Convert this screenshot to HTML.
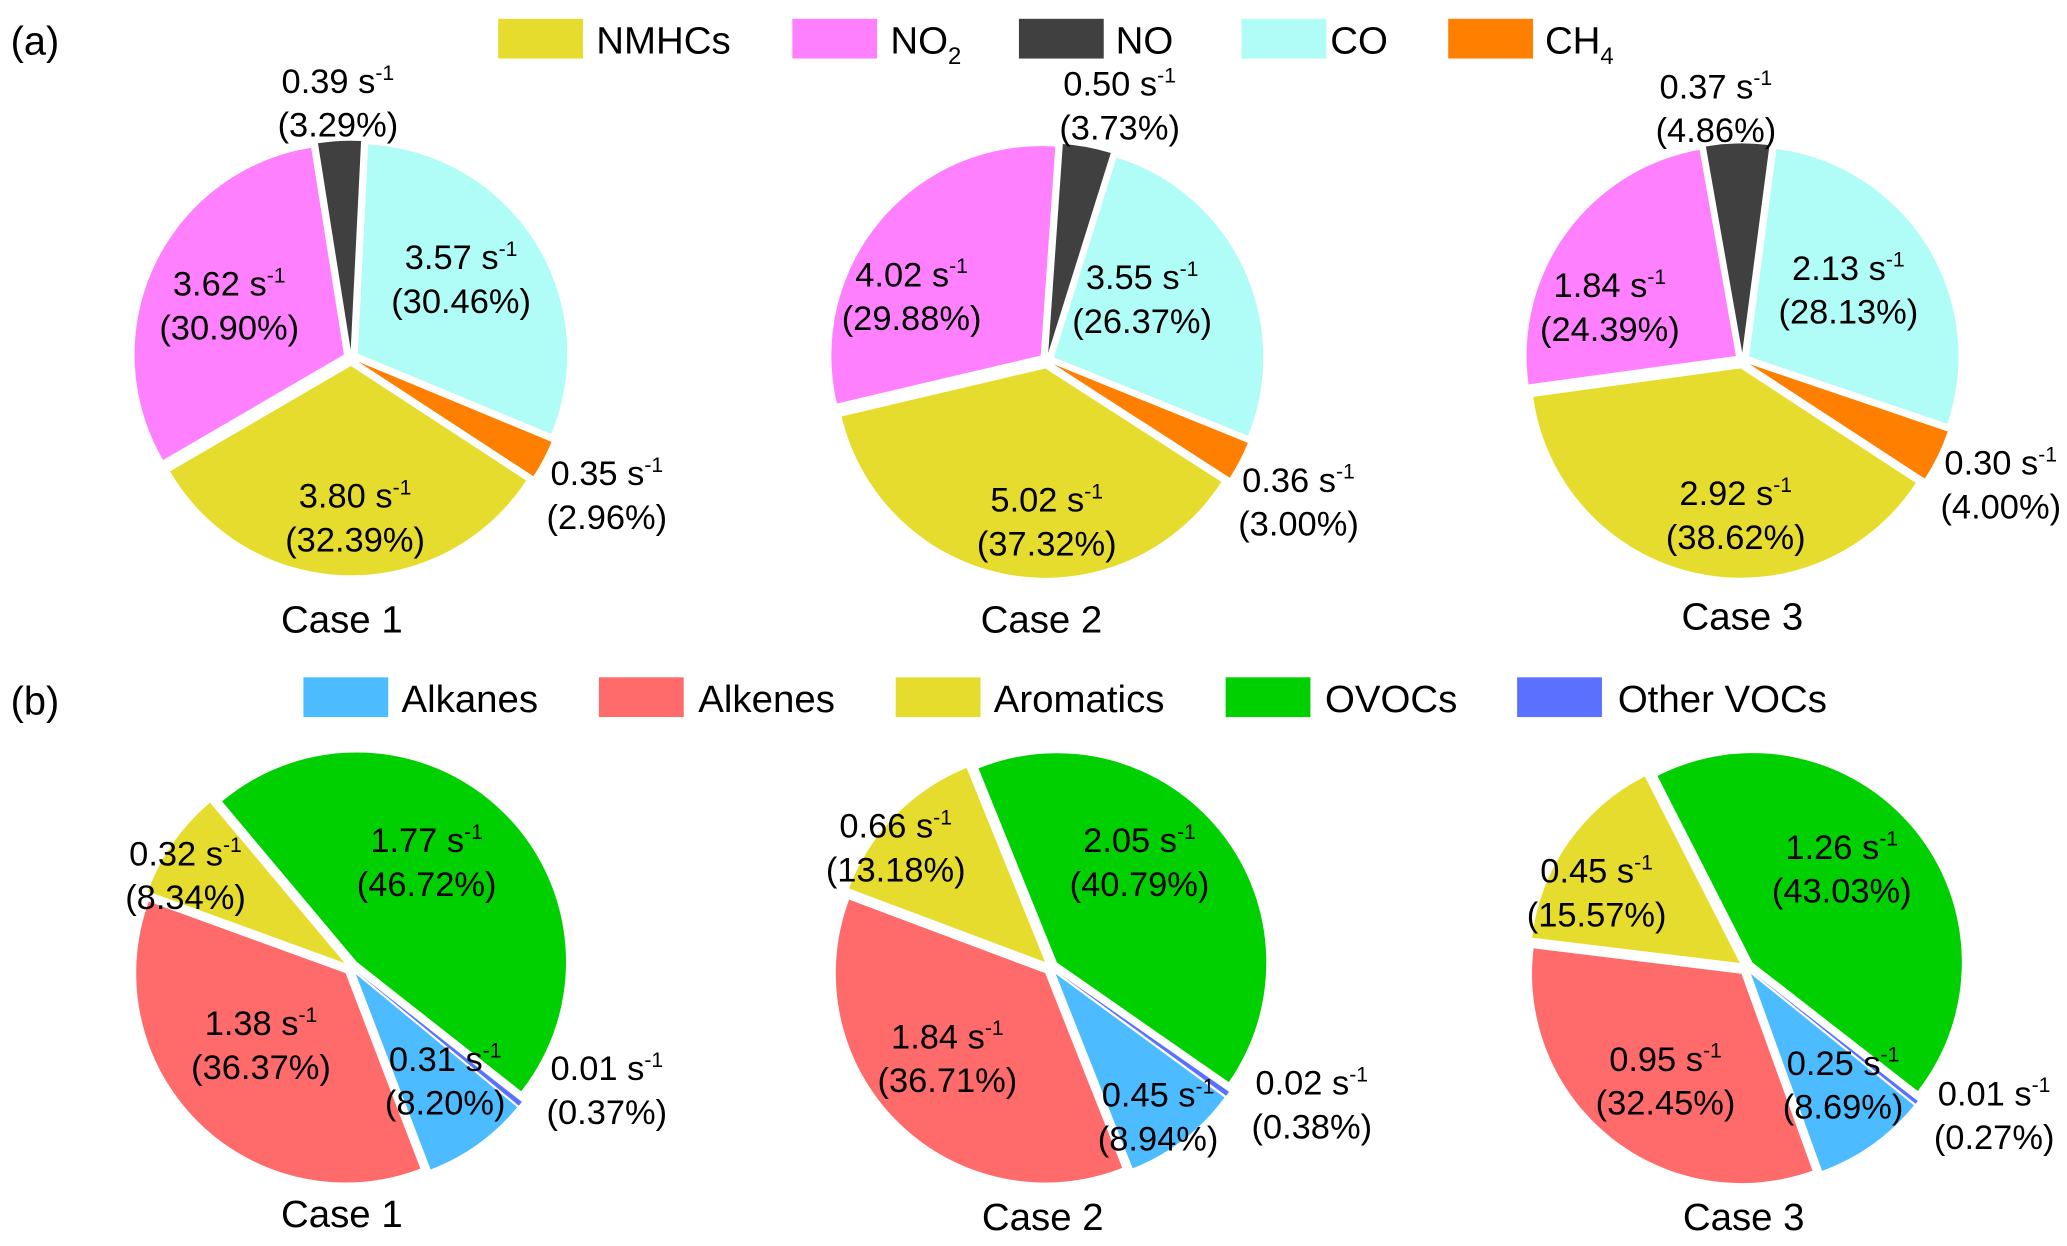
<!DOCTYPE html>
<html><head><meta charset="utf-8"><style>
html,body{margin:0;padding:0;background:#fff;}
svg{display:block;font-family:"Liberation Sans",Arial,sans-serif;}
</style></head><body>
<svg id="chart" width="2067" height="1246" viewBox="0 0 1560 940" xmlns="http://www.w3.org/2000/svg">
<text x="8" y="41" font-size="30">(a)</text>
<text x="8" y="539" font-size="30">(b)</text>
<g id="legA"></g>
<g id="legB"></g>
<g id="pies"></g>
</svg>
<script>
// Panel (a) data, clockwise order: NO, CO, CH4, NMHCs, NO2
const aNames = ["NO","CO","CH4","NMHCs","NO2"];
const aRates1 = [0.39,3.57,0.35,3.80,3.62];
const aPct1 = [3.29,30.46,2.96,32.39,30.90];
const aRates2 = [0.50,3.55,0.36,5.02,4.02];
const aPct2 = [3.73,26.37,3.00,37.32,29.88];
const aRates3 = [0.37,2.13,0.30,2.92,1.84];
const aPct3 = [4.86,28.13,4.00,38.62,24.39];
// Panel (b) data, clockwise order: OVOCs, Other, Alkanes, Alkenes, Aromatics
const bNames = ["OVOCs","Other VOCs","Alkanes","Alkenes","Aromatics"];
const bRates1 = [1.77,0.01,0.31,1.38,0.32];
const bPct1 = [46.72,0.37,8.20,36.37,8.34];
const bRates2 = [2.05,0.02,0.45,1.84,0.66];
const bPct2 = [40.79,0.38,8.94,36.71,13.18];
const bRates3 = [1.26,0.01,0.25,0.95,0.45];
const bPct3 = [43.03,0.27,8.69,32.45,15.57];
const caseLabels = ["Case 1","Case 2","Case 3"];

const NS="http://www.w3.org/2000/svg";
const svg=document.getElementById('chart');
function mk(tag,attrs,parent){const e=document.createElementNS(NS,tag);for(const k in attrs)e.setAttribute(k,attrs[k]);parent.appendChild(e);return e;}

const aColors={"NO":"#404040","CO":"#b0fcf6","CH4":"#ff8000","NMHCs":"#e6dc2e","NO2":"#ff80ff"};
const bColors={"OVOCs":"#00d000","Other VOCs":"#5a70ff","Alkanes":"#4dbbff","Alkenes":"#ff6a6a","Aromatics":"#e6dc2e"};

const legA=document.getElementById('legA');
[["NMHCs",376,450],["NO2",598,672],["NO",769,842],["CO",937,1004],["CH4",1093,1166]].forEach(([n,bx,tx])=>{
  const r=mk('rect',{x:bx,y:14,width:64,height:30,fill:aColors[n]},legA);
  
  
  const t=mk('text',{x:tx,y:40,'font-size':29},legA);
  
  
  if(n==="NO2"||n==="CH4"){t.textContent=n.slice(0,-1);const s=mk('tspan',{'font-size':18,dy:8},t);s.textContent=n.slice(-1);}
  else t.textContent=n;
});
const legB=document.getElementById('legB');
[["Alkanes",229,303],["Alkenes",452,527],["Aromatics",676,750],["OVOCs",925,1000],["Other VOCs",1145,1221]].forEach(([n,bx,tx])=>{
  const r=mk('rect',{x:bx,y:511,width:64,height:30,fill:bColors[n]},legB);
  
  
  const t=mk('text',{x:tx,y:537,'font-size':29},legB);
  
  
  t.textContent=n;
});

const pies=document.getElementById('pies');
const R=158, EXP=6;
function pt(cx,cy,r,deg){const a=deg*Math.PI/180;return [cx+r*Math.sin(a),cy-r*Math.cos(a)];}
function label(g,x,y,rate,pct,name){
  const t=mk('text',{x:x,y:y,'font-size':26,'text-anchor':'middle'},g);
  
  
  t.appendChild(document.createTextNode(rate.toFixed(2)+' s'));
  const s=mk('tspan',{'font-size':16,dy:-10},t);s.textContent='-1';
  const t2=mk('text',{x:x,y:y+33,'font-size':26,'text-anchor':'middle'},g);
  
  
  t2.textContent='('+pct.toFixed(2)+'%)';
}
function drawPie(id,cx,cy,start,names,rates,pcts,colors,labelPos,caseX,caseY,caseText){
  const g=mk('g',{},pies);
  
  
  const total=pcts.reduce((a,b)=>a+b,0);
  let ang=start;
  names.forEach((n,i)=>{
    const sweep=pcts[i]/total*360;
    const mid=ang+sweep/2;
    const [ox,oy]=pt(cx,cy,EXP,mid);
    const [x1,y1]=pt(ox,oy,R,ang),[x2,y2]=pt(ox,oy,R,ang+sweep);
    const p=mk('path',{d:`M${ox},${oy}L${x1},${y1}A${R},${R} 0 ${sweep>180?1:0} 1 ${x2},${y2}Z`,fill:colors[n]},g);
    
    
    ang+=sweep;
  });
  names.forEach((n,i)=>label(g,labelPos[i][0],labelPos[i][1],rates[i],pcts[i],n.toLowerCase().replace(' ','-')));
  const c=mk('text',{x:caseX,y:caseY,'font-size':29,'text-anchor':'middle'},g);
  
  
  c.textContent=caseText;
}
drawPie('pie-a-case1',265,270,-9,aNames,aRates1,aPct1,aColors,
  [[255,70],[348,203],[458,366],[268,383],[173,223]],258,477,caseLabels[0]);
drawPie('pie-a-case2',790,272,4,aNames,aRates2,aPct2,aColors,
  [[845,72],[862,218],[980,371],[790,386],[688,216]],786,477,caseLabels[1]);
drawPie('pie-a-case3',1315,272,-10,aNames,aRates3,aPct3,aColors,
  [[1295,74],[1395,211],[1510,358],[1310,381],[1215,224]],1315,475,caseLabels[2]);
drawPie('pie-b-case1',265,730,-40,bNames,bRates1,bPct1,bColors,
  [[322,643],[458,815],[336,808],[197,781],[140,653]],258,926,caseLabels[0]);
drawPie('pie-b-case2',793,730,-22,bNames,bRates2,bPct2,bColors,
  [[860,643],[990,826],[874,835],[715,791],[676,632]],787,928,caseLabels[1]);
drawPie('pie-b-case3',1318,730,-27,bNames,bRates3,bPct3,bColors,
  [[1390,648],[1505,834],[1391,811],[1257,808],[1205,666]],1316,928,caseLabels[2]);
</script>
</body></html>
